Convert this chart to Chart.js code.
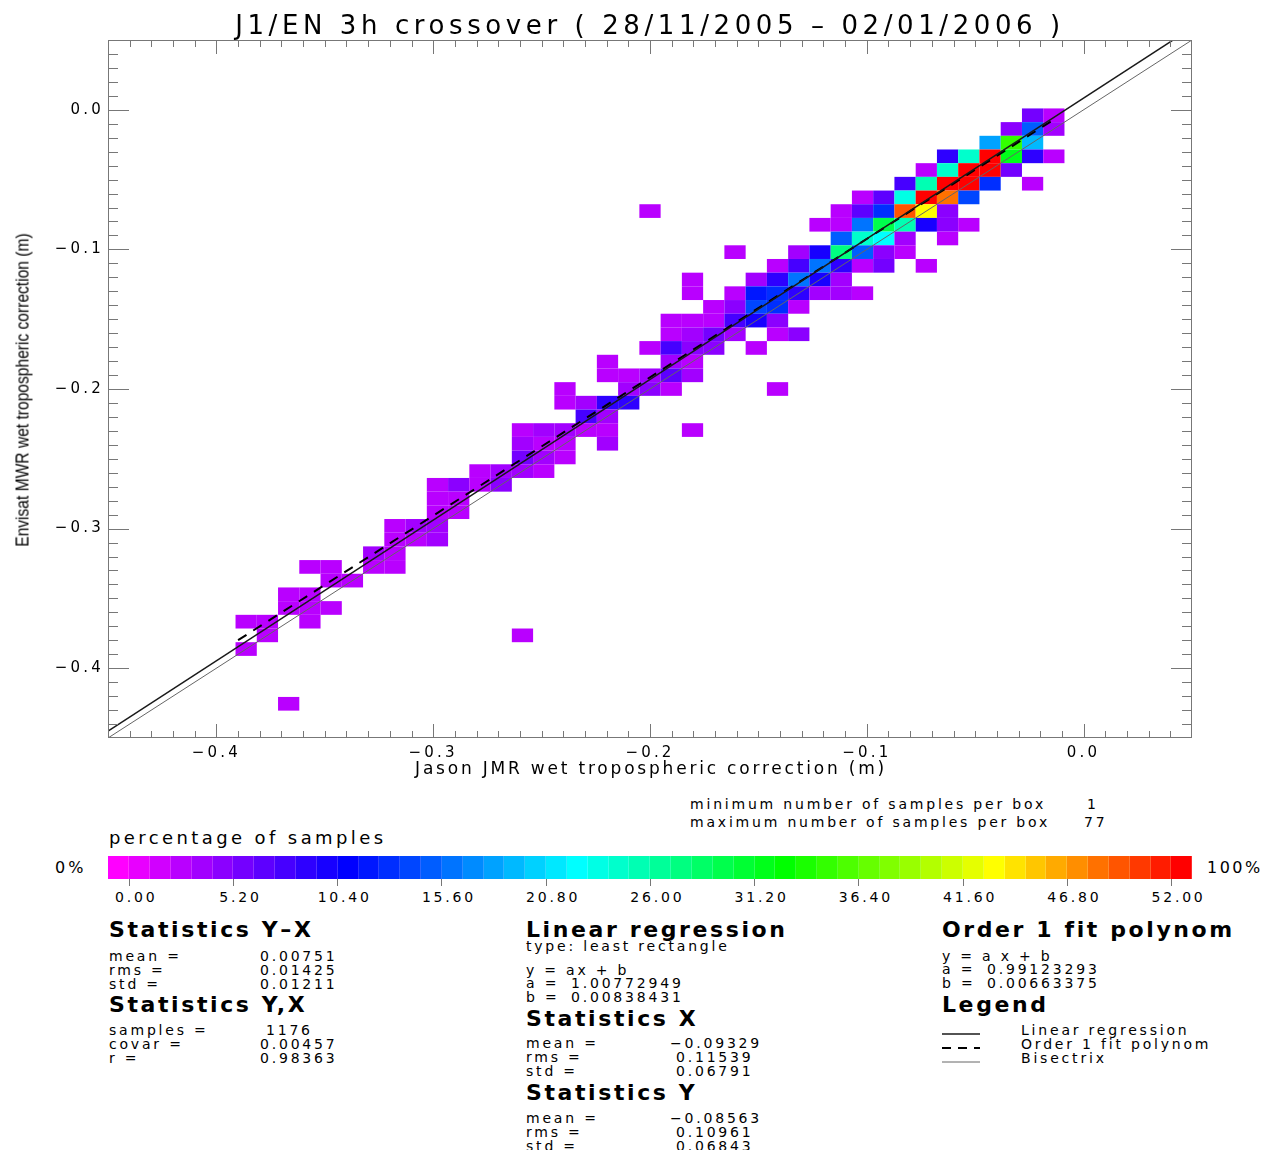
<!DOCTYPE html>
<html><head><meta charset="utf-8">
<script src="https://cdn.jsdelivr.net/npm/chart.js@4.4.0/dist/chart.umd.min.js"></script>
<style>
html,body{margin:0;padding:0;background:#fff;}
#wrap{position:relative;width:1262px;height:1150px;overflow:hidden;background:#fff;}
#c{position:absolute;left:0;top:0;}
.t{position:absolute;white-space:pre;line-height:1;color:#000;font-family:"DejaVu Sans",sans-serif;font-size:14px;letter-spacing:2.8px;transform:translateY(-50%);}
.h{font-weight:bold;font-size:22px;letter-spacing:2.6px;}
#cbar{position:absolute;left:108.4px;top:856px;width:1084px;height:23px;display:flex;}
#cbar div{flex:1 1 0;height:100%;box-shadow:inset -1px 0 rgba(255,255,255,0.18);}
.tk{position:absolute;width:1px;height:7px;background:#777;top:879px;}
</style></head><body><div id="wrap"><canvas id="c" width="1262" height="790"></canvas></div>
<script>
// ---------------- DATA ----------------
const binOrigin = -0.45;            // first bin edge (m), both axes
const binSize = 0.5 / 51;           // bin width (m)
// cell bins (x index, y index) and percentage level (colour bar units 0..52)
const cellXIndex = [43,44, 42,43,44, 41,42,43, 39,40,41,42,43,44, 38,39,40,41,42, 37,38,39,40,41,43, 35,36,37,38,39,40,
  25,34,35,36,37,38,39, 33,34,35,36,37,38,39,40, 34,35,36,37,39, 29,32,33,34,35,36,37, 31,32,33,34,35,36,38,
  27,30,31,32,33,34, 27,29,30,31,32,33,34,35, 28,29,30,31,32, 26,27,28,29,30,31, 26,27,28,29,31,32, 25,26,27,28,30,
  23,26,27, 23,24,25,26,27, 21,24,25,26,31, 21,22,23,24, 22,23, 19,20,21,22,23,27, 19,20,21,23, 19,20,21, 17,18,19,20,
  15,16,17,18, 15,16, 15,16, 13,14,15, 13,14,15, 12,13, 9,10,12,13, 10,11, 8,9, 8,9,10, 6,7,9, 7,19, 6, 8];
const cellYIndex = [45,45, 44,44,44, 43,43,43, 42,42,42,42,42,42, 41,41,41,41,41, 40,40,40,40,40,40, 39,39,39,39,39,39,
  38,38,38,38,38,38,38, 37,37,37,37,37,37,37,37, 36,36,36,36,36, 35,35,35,35,35,35,35, 34,34,34,34,34,34,34,
  33,33,33,33,33,33, 32,32,32,32,32,32,32,32, 31,31,31,31,31, 30,30,30,30,30,30, 29,29,29,29,29,29, 28,28,28,28,28,
  27,27,27, 26,26,26,26,26, 25,25,25,25,25, 24,24,24,24, 23,23, 22,22,22,22,22,22, 21,21,21,21, 20,20,20, 19,19,19,19,
  18,18,18,18, 17,17, 16,16, 15,15,15, 14,14,14, 13,13, 12,12,12,12, 11,11, 10,10, 9,9,9, 8,8,8, 7,7, 6, 2];
const cellPercent = [5.7,2.6, 4.7,15.1,3.6, 18.2,34.8,19.2, 8.8,24.4,52,31.7,8.8,2.6, 2.6,24.4,52,52,5.7, 7.8,25.5,52,52,13.0,2.6, 2.6,6.8,23.4,52,48.4,14.0,
  2.6,2.6,6.8,13.0,49.4,43.2,4.7, 2.6,2.6,16.1,29.6,25.5,9.9,4.7,2.6, 15.1,24.4,22.4,3.6,2.6, 2.6,3.6,9.9,27.6,15.1,4.7,2.6, 2.6,7.8,16.1,8.8,2.6,5.7,2.6,
  2.6,3.6,8.8,16.1,9.9,3.6, 2.6,2.6,11.9,13.0,8.8,3.6,3.6,2.6, 2.6,4.7,14.0,13.0,2.6, 2.6,2.6,2.6,7.8,9.9,4.7, 2.6,3.6,5.7,3.6,2.6,4.7, 2.6,7.8,4.7,4.7,2.6,
  2.6,3.6,2.6, 2.6,2.6,3.6,6.8,3.6, 2.6,3.6,4.7,2.6,2.6, 2.6,3.6,8.8,8.8, 7.8,3.6, 2.6,3.6,3.6,2.6,2.6,2.6, 3.6,2.6,2.6,3.6, 5.7,3.6,2.6, 2.6,3.6,3.6,2.6,
  2.6,4.7,2.6,4.7, 2.6,2.6, 2.6,2.6, 2.6,3.6,3.6, 2.6,2.6,3.6, 3.6,2.6, 2.6,2.6,2.6,2.6, 2.6,2.6, 2.6,2.6, 2.6,2.6,2.6, 2.6,2.6,2.6, 2.6,2.6, 2.6, 2.6];
// regression / fit coefficients and line ranges
const regCoef = [1.00772949, 0.00838431];
const fitCoef = [0.99123293, 0.00663375];
const lineRange = [-0.45, 0.05];
const fitRange = [-0.39, -0.015];
// axis ticks
const axisMin = -0.45, axisMax = 0.05;
const xTickValues = [-0.4, -0.3, -0.2, -0.1, 0.0];
const yTickValues = [-0.4, -0.3, -0.2, -0.1, 0.0];
// colour bar
const cbTicks = [0, 5.2, 10.4, 15.6, 20.8, 26.0, 31.2, 36.4, 41.6, 46.8, 52.0];
const cbSegments = 52;
// statistics texts
const statsYX = ['0.00751', '0.01425', '0.01211'];
const statsYcX = ['1176', '0.00457', '0.98363'];
const linReg = ['1.00772949', '0.00838431'];
const statsX = ['\u22120.09329', '0.11539', '0.06791'];
const statsY = ['\u22120.08563', '0.10961', '0.06843'];
const fitPoly = ['0.99123293', '0.00663375'];
const boxCounts = ['1', '77'];

// ---------------- COLOURS ----------------
const hueAnchors = [[0,300],[11,240],[22,180],[32,120],[42,60],[51,0]];
function hueForSeg(k){
  for (let a = 0; a < hueAnchors.length - 1; a++){
    const [k0,h0] = hueAnchors[a], [k1,h1] = hueAnchors[a+1];
    if (k <= k1) return h0 + (h1 - h0) * (k - k0) / (k1 - k0);
  }
  return 0;
}
function hsv(h){
  const x = 1 - Math.abs((h/60) % 2 - 1);
  let r,g,b;
  if (h < 60){r=1;g=x;b=0;} else if (h < 120){r=x;g=1;b=0;} else if (h < 180){r=0;g=1;b=x;}
  else if (h < 240){r=0;g=x;b=1;} else if (h < 300){r=x;g=0;b=1;} else {r=1;g=0;b=x;}
  return 'rgb(' + Math.round(r*255) + ',' + Math.round(g*255) + ',' + Math.round(b*255) + ')';
}
const segUnits = (cbTicks[cbTicks.length-1] - cbTicks[0]) / (cbSegments - 2);
function colorForValue(v){
  const k = Math.min(cbSegments - 1, Math.max(0, 1 + Math.floor(v / segUnits)));
  return hsv(hueForSeg(k));
}

// ---------------- CHART ----------------
const cellPlugin = {
  id: 'cells',
  beforeDatasetsDraw(chart){
    const {ctx, chartArea: a, scales: {x, y}} = chart;
    ctx.save();
    ctx.beginPath(); ctx.rect(a.left, a.top, a.right - a.left, a.bottom - a.top); ctx.clip();
    for (let n = 0; n < cellXIndex.length; n++){
      const x0 = binOrigin + cellXIndex[n] * binSize, x1 = x0 + binSize;
      const y0 = binOrigin + cellYIndex[n] * binSize, y1 = y0 + binSize;
      const px0 = x.getPixelForValue(x0), px1 = x.getPixelForValue(x1);
      const py0 = y.getPixelForValue(y1), py1 = y.getPixelForValue(y0);
      ctx.fillStyle = colorForValue(cellPercent[n]);
      ctx.fillRect(px0, py0, px1 - px0, py1 - py0);
    }
    ctx.restore();
  }
};
const framePlugin = {
  id: 'frame',
  beforeDraw(chart){ chart.ctx.letterSpacing = '3.2px'; },
  afterDatasetsDraw(chart){
    const {ctx, chartArea: a, scales: {x, y}} = chart;
    ctx.save();
    ctx.strokeStyle = '#777'; ctx.lineWidth = 1;
    ctx.strokeRect(Math.round(a.left) + 0.5, Math.round(a.top) + 0.5, Math.round(a.right - a.left) - 1, Math.round(a.bottom - a.top) - 1);
    ctx.beginPath();
    for (let k = 1; k < 50; k++){
      const v = axisMin + k * 0.01;
      const major = Math.abs(v * 10 - Math.round(v * 10)) < 1e-6;
      const px = Math.round(x.getPixelForValue(v)) + 0.5;
      const lx = major ? 14 : 7;
      ctx.moveTo(px, a.bottom); ctx.lineTo(px, a.bottom - lx);
      ctx.moveTo(px, a.top); ctx.lineTo(px, a.top + lx);
      const py = Math.round(y.getPixelForValue(v)) + 0.5;
      const ly = major ? 21 : 10;
      ctx.moveTo(a.left, py); ctx.lineTo(a.left + ly, py);
      ctx.moveTo(a.right, py); ctx.lineTo(a.right - ly, py);
    }
    ctx.stroke();
    ctx.restore();
  }
};
function fmt(v){ const r = Math.round(v * 10) / 10; return (r < 0 ? '\u2212' : '') + Math.abs(r).toFixed(1); }
const tickFont = {family: 'DejaVu Sans', size: 15};
function lineData(coef, range){ return range.map(v => ({x: v, y: coef[0] * v + coef[1]})); }

new Chart(document.getElementById('c'), {
  type: 'scatter',
  data: {
    datasets: [
      {label: 'Linear regression', data: lineData(regCoef, lineRange), showLine: true, borderColor: '#1a1a1a', borderWidth: 1.5, pointRadius: 0},
      {label: 'Order 1 fit polynom', data: lineData(fitCoef, fitRange), showLine: true, borderColor: '#000', borderWidth: 2, borderDash: [10, 8], pointRadius: 0},
      {label: 'Bisectrix', data: lineData([1, 0], lineRange), showLine: true, borderColor: '#666', borderWidth: 1, pointRadius: 0}
    ]
  },
  options: {
    responsive: false, animation: false,
    layout: {padding: {left: 0, top: 40, right: 70, bottom: 0}},
    plugins: {legend: {display: false}, tooltip: {enabled: false}, title: {display: false}},
    scales: {
      x: {type: 'linear', min: axisMin, max: axisMax, grid: {display: false}, border: {display: false},
          ticks: {font: tickFont, color: '#000', padding: -2, maxRotation: 0, autoSkip: false, callback: fmt},
          afterBuildTicks: s => { s.ticks = xTickValues.map(v => ({value: v})); },
          afterFit: s => { s.height = 52; }},
      y: {type: 'linear', min: axisMin, max: axisMax, grid: {display: false}, border: {display: false},
          ticks: {font: tickFont, color: '#000', padding: -4, autoSkip: false, callback: fmt},
          afterBuildTicks: s => { s.ticks = yTickValues.map(v => ({value: v})); },
          afterFit: s => { s.width = 108; }}
    }
  },
  plugins: [cellPlugin, framePlugin]
});

// ---------------- TEXT & COLOUR BAR ----------------
const wrap = document.getElementById('wrap');
function txt(s, x, y, cls, style){
  const d = document.createElement('div');
  d.className = 't' + (cls ? ' ' + cls : '');
  d.textContent = s;
  d.style.left = x + 'px'; d.style.top = y + 'px';
  if (style) Object.assign(d.style, style);
  wrap.appendChild(d);
  return d;
}
txt('J1/EN 3h crossover ( 28/11/2005 \u2013 02/01/2006 )', 650, 25, '', {fontSize: '26px', letterSpacing: '4.6px', transform: 'translate(-50%,-50%)'});
txt('Jason JMR wet tropospheric correction (m)', 651, 768, '', {fontSize: '17px', letterSpacing: '2.8px', transform: 'translate(-50%,-50%)'});
txt('Envisat MWR wet tropospheric correction (m)', 22, 390, '', {fontFamily: '"Liberation Sans", Arial, sans-serif', fontSize: '19px', letterSpacing: '0px', transform: 'translate(-50%,-50%) rotate(-90deg) scaleX(0.82)'});

txt('minimum number of samples per box', 690, 804);
txt(boxCounts[0], 1087, 804);
txt('maximum number of samples per box', 690, 822);
txt(boxCounts[1], 1084, 822);
txt('percentage of samples', 109, 838, '', {fontSize: '18px', letterSpacing: '3.4px'});
txt('0%', 55, 868, '', {fontSize: '16px', letterSpacing: '3px'});
txt('100%', 1207, 868, '', {fontSize: '16px', letterSpacing: '2.5px'});

const cbar = document.createElement('div'); cbar.id = 'cbar'; wrap.appendChild(cbar);
for (let k = 0; k < cbSegments; k++){ const s = document.createElement('div'); s.style.background = hsv(hueForSeg(k)); cbar.appendChild(s); }
const segW = 1084 / cbSegments;
cbTicks.forEach(v => {
  const px = 108.4 + (1 + v / segUnits) * segW;
  const t = document.createElement('div'); t.className = 'tk'; t.style.left = (px - 0.5) + 'px'; wrap.appendChild(t);
  txt(v.toFixed(2), px + 7, 897, '', {transform: 'translate(-50%,-50%)'});
});

// left column
txt('Statistics Y\u2013X', 109, 930, 'h');
['mean =', 'rms =', 'std ='].forEach((l, i) => { txt(l, 109, 956 + i * 14); txt(statsYX[i], 260, 956 + i * 14); });
txt('Statistics Y,X', 109, 1005, 'h');
['samples =', 'covar =', 'r ='].forEach((l, i) => { txt(l, 109, 1030 + i * 14); txt(statsYcX[i], i === 0 ? 266 : 260, 1030 + i * 14); });
// middle column
txt('Linear regression', 526, 930, 'h');
txt('type: least rectangle', 526, 946);
txt('y = ax + b', 526, 970);
txt('a =', 526, 983); txt(linReg[0], 571, 983);
txt('b =', 526, 997); txt(linReg[1], 571, 997);
txt('Statistics X', 526, 1019, 'h');
['mean =', 'rms =', 'std ='].forEach((l, i) => { txt(l, 526, 1043 + i * 14); txt(statsX[i], i === 0 ? 670 : 676, 1043 + i * 14); });
txt('Statistics Y', 526, 1093, 'h');
['mean =', 'rms =', 'std ='].forEach((l, i) => { txt(l, 526, 1118 + i * 14); txt(statsY[i], i === 0 ? 670 : 676, 1118 + i * 14); });
// right column
txt('Order 1 fit polynom', 942, 930, 'h');
txt('y = a x + b', 942, 956);
txt('a =', 942, 969); txt(fitPoly[0], 987, 969);
txt('b =', 942, 983); txt(fitPoly[1], 987, 983);
txt('Legend', 942, 1005, 'h');
const legendNames = ['Linear regression', 'Order 1 fit polynom', 'Bisectrix'];
const legendStyles = [['#1a1a1a', 1.5, ''], ['#000', 2, '9 7'], ['#666', 1, '']];
legendNames.forEach((n, i) => {
  txt(n, 1021, 1030 + i * 14);
  const svg = document.createElementNS('http://www.w3.org/2000/svg', 'svg');
  svg.setAttribute('width', '40'); svg.setAttribute('height', '6');
  svg.style.position = 'absolute'; svg.style.left = '941px'; svg.style.top = (1031 + i * 14) + 'px';
  const ln = document.createElementNS('http://www.w3.org/2000/svg', 'line');
  ln.setAttribute('x1', '1'); ln.setAttribute('x2', '39'); ln.setAttribute('y1', '3'); ln.setAttribute('y2', '3');
  ln.setAttribute('stroke', legendStyles[i][0]); ln.setAttribute('stroke-width', legendStyles[i][1]);
  if (legendStyles[i][2]) ln.setAttribute('stroke-dasharray', legendStyles[i][2]);
  svg.appendChild(ln); wrap.appendChild(svg);
});
</script></body></html>
